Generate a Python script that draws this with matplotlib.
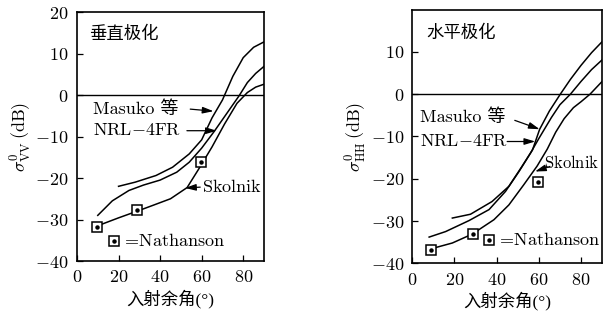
import matplotlib.pyplot as plt

plt.rcParams['font.family'] = ['Liberation Serif', 'Noto Sans CJK SC']
plt.rcParams['mathtext.fontset'] = 'cm'
plt.rcParams['font.size'] = 13
MIXED = ['cmr10', 'Noto Sans CJK SC']
SERIF_CJK = ['Liberation Serif', 'Noto Sans CJK SC']

# 垂直极化 (VV)
vv_masuko_x = [20, 28, 38, 46, 54, 60, 65, 70, 75, 80, 85, 90]
vv_masuko_y = [-22, -21, -19.4, -17.4, -14.2, -10.8, -5.5, -1.2, 4.5, 9.0, 11.5, 12.8]
vv_nrl_x = [10, 17, 25, 32, 40, 48, 54, 60, 66, 72, 78, 82, 86, 90]
vv_nrl_y = [-29, -25.5, -23, -21.7, -20.5, -18.6, -16.2, -12.8, -8.8, -4.5, -0.2, 3.0, 5.2, 6.9]
vv_skol_x = [10, 20, 30, 37, 45, 53, 59, 65, 71, 77, 82, 86, 90]
vv_skol_y = [-31.5, -29.6, -27.8, -26.5, -25, -22.3, -17.5, -12.5, -7, -2, 0.6, 1.9, 2.6]
vv_nath_x = [9.6, 28.8, 59.8]
vv_nath_y = [-31.7, -27.8, -16.2]

# 水平极化 (HH)
hh_masuko_x = [19, 27.6, 37.8, 45.8, 52, 57, 60.4, 65, 70.2, 75, 80, 85, 90]
hh_masuko_y = [-29.3, -28.4, -25.4, -21.8, -17.1, -13.2, -8.3, -4.0, 0, 3.5, 6.8, 9.8, 12.4]
hh_nrl_x = [8, 15.8, 26.9, 36.4, 44.2, 50.6, 56.1, 60, 66, 70, 75, 80, 85, 90]
hh_nrl_y = [-33.8, -32.5, -29.9, -27.3, -23, -18.3, -13.9, -10.5, -5.5, -2.5, 0, 3.0, 5.8, 8.1]
hh_skol_x = [8.7, 19, 28.4, 38.7, 45.8, 52.9, 59.2, 64, 68, 72, 76.4, 80, 84.3, 90]
hh_skol_y = [-36.6, -35.2, -33.1, -29.7, -26.2, -21.4, -17.0, -13.0, -9.0, -5.8, -3.2, -1.8, 0, 3.0]
hh_nath_x = [8.7, 28.7, 59.6]
hh_nath_y = [-36.8, -33.0, -20.8]

x_ticks = [0, 20, 40, 60, 80]
vv_y_ticks = [-40, -30, -20, -10, 0, 10, 20]
hh_y_ticks = [-40, -30, -20, -10, 0, 10]

fig = plt.figure(figsize=(6.03, 3.22), dpi=100)
ax1 = fig.add_axes([0.1277, 0.1894, 0.3101, 0.7733])
ax2 = fig.add_axes([0.6837, 0.1823, 0.3148, 0.7867])


def nathanson(ax, x, y):
    ax.plot(x, y, 's', ms=6.5, mfc='white', mec='black', mew=1.1, zorder=3)
    ax.plot(x, y, 'o', ms=2.2, color='black', zorder=4)


def arrow(ax, start, end):
    ax.annotate('', xy=end, xytext=start,
                arrowprops=dict(arrowstyle='-|>,head_length=0.5,head_width=0.15',
                                color='black', lw=0.9, shrinkA=0, shrinkB=0))


def label(ax, x, y, s, size=13, **kw):
    ax.text(x, y, s, fontsize=size, va='center', clip_on=False, **kw)


for ax in (ax1, ax2):
    ax.axhline(0, color='black', lw=1.0)
    ax.set_xlim(0, 90)
    ax.set_xticks(x_ticks, labels=[f'${t}$' for t in x_ticks])
    ax.tick_params(direction='in', length=4, width=0.9, labelsize=13, pad=6)
    for s in ax.spines.values():
        s.set_linewidth(1.2)
    ax.set_xlabel('入射余角(°)', fontsize=12.5, labelpad=2, family=SERIF_CJK)

# left panel
ax1.plot(vv_masuko_x, vv_masuko_y, color='black', lw=1.1)
ax1.plot(vv_nrl_x, vv_nrl_y, color='black', lw=1.1)
ax1.plot(vv_skol_x, vv_skol_y, color='black', lw=1.1)
nathanson(ax1, vv_nath_x, vv_nath_y)
nathanson(ax1, [18], [-35.2])
ax1.set_ylim(-40, 20)
ax1.set_yticks(vv_y_ticks, labels=[f'${t}$' for t in vv_y_ticks])
ax1.set_ylabel(r'$\sigma^0_{\rm VV}\,(\mathrm{dB})$', fontsize=13, labelpad=1)
ax1.text(6, 14.7, '垂直极化', fontsize=12.5, va='center', family=MIXED)
label(ax1, 7.6, -3.3, 'Masuko 等', family=MIXED)
arrow(ax1, (54.5, -3.4), (65.7, -3.9))
label(ax1, 7.6, -8.6, r'$\mathrm{NRL{-}4FR}$')
arrow(ax1, (52.9, -8.6), (67.3, -8.6))
label(ax1, 60.3, -22.2, r'$\mathrm{Skolnik}$')
arrow(ax1, (59.3, -22.2), (52, -22.4))
label(ax1, 21.2, -35.2, r'$=\!\mathrm{Nathanson}$')

# right panel
ax2.plot(hh_masuko_x, hh_masuko_y, color='black', lw=1.1)
ax2.plot(hh_nrl_x, hh_nrl_y, color='black', lw=1.1)
ax2.plot(hh_skol_x, hh_skol_y, color='black', lw=1.1)
nathanson(ax2, hh_nath_x, hh_nath_y)
nathanson(ax2, [36.4], [-34.6])
ax2.set_ylim(-40, 19.9)
ax2.set_yticks(hh_y_ticks, labels=[f'${t}$' for t in hh_y_ticks])
ax2.set_ylabel(r'$\sigma^0_{\rm HH}\,(\mathrm{dB})$', fontsize=13, labelpad=1)
ax2.text(6.8, 14.4, '水平极化', fontsize=12.5, va='center', family=MIXED)
label(ax2, 3.7, -5.3, 'Masuko 等', family=MIXED)
arrow(ax2, (48.6, -6.2), (60.4, -8.3))
label(ax2, 3.7, -11.2, r'$\mathrm{NRL{-}4FR}$')
arrow(ax2, (45, -11.2), (58.3, -11.2))
label(ax2, 62.6, -16.3, r'$\mathrm{Skolnik}$', size=12)
arrow(ax2, (65.3, -17.1), (58.2, -18.3))
label(ax2, 39.5, -34.6, r'$=\!\mathrm{Nathanson}$')

fig.savefig('out.png', dpi=100)
